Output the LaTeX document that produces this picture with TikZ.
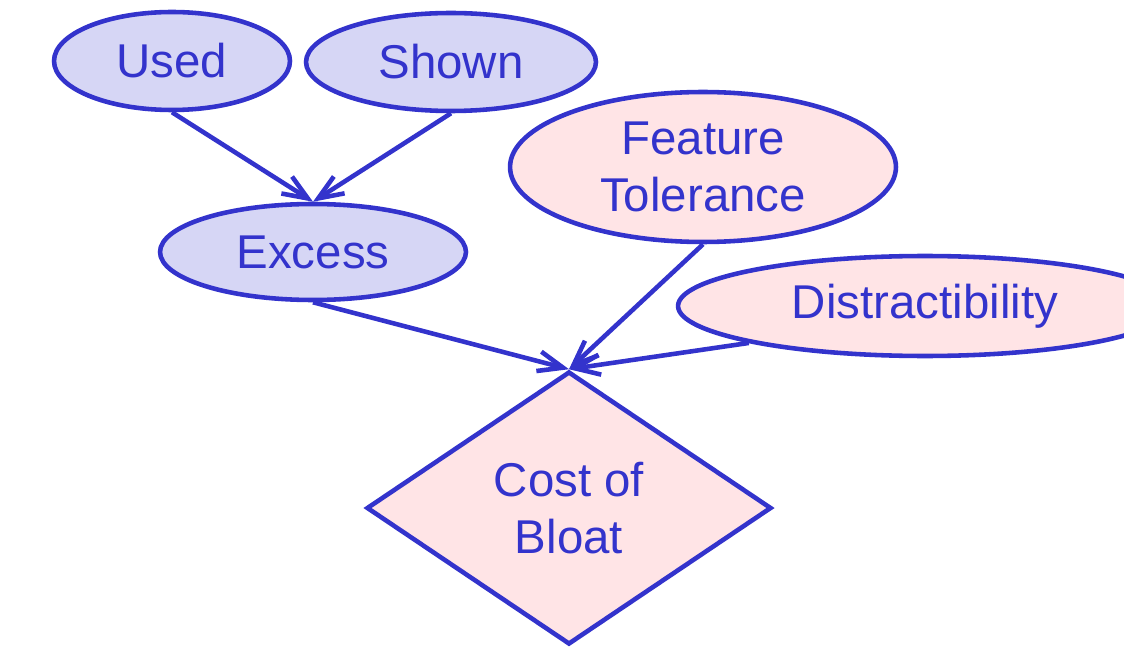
\documentclass[tikz,border=0pt]{standalone}
\usepackage{fontspec}
\setmainfont{Liberation Sans}
\usetikzlibrary{shapes.geometric,arrows.meta}
\definecolor{ink}{HTML}{3333CC}
\definecolor{lilac}{HTML}{D6D6F5}
\definecolor{blush}{HTML}{FFE4E6}
\tikzset{
  factor/.style={draw=ink, line width=2.6pt, shape=ellipse, inner sep=0pt,
    text=ink, align=center, font=\fontsize{27}{32}\selectfont},
  link/.style={draw=ink, line width=2.6pt, -{Straight Barb[length=5mm,width=4mm]}},
}
\begin{document}
\begin{tikzpicture}[x=0.02cm, y=-0.02cm]
\useasboundingbox (0,0) rectangle (1124,648);
\node (us) [factor, fill=lilac, minimum width=4.72cm, minimum height=1.96cm] at (172,61) {Used};
\node (sh) [factor, fill=lilac, minimum width=5.8cm, minimum height=1.96cm] at (451,62) {Shown};
\node (ex) [factor, fill=lilac, minimum width=6.12cm, minimum height=1.92cm] at (313,252) {Excess};
\node (ft) [factor, fill=blush, minimum width=7.72cm, minimum height=3cm] at (703,167) {Feature\\Tolerance};
\node (di) [factor, fill=blush, minimum width=9.88cm, minimum height=2cm] at (925,306) {Distractibility};
\node (cb) [factor, shape=diamond, fill=blush, aspect=1.48,
  minimum width=8.1cm, minimum height=5.46cm] at (569,508) {Cost of\\Bloat};
\draw[link] (us.south) -- (ex.north);
\draw[link] (sh.south) -- (ex.north);
\draw[link] (ex.south) -- (cb.north);
\draw[link] (ft.south) -- (cb.north);
\draw[link] (di.south west) -- (cb.north);
\end{tikzpicture}
\end{document}
